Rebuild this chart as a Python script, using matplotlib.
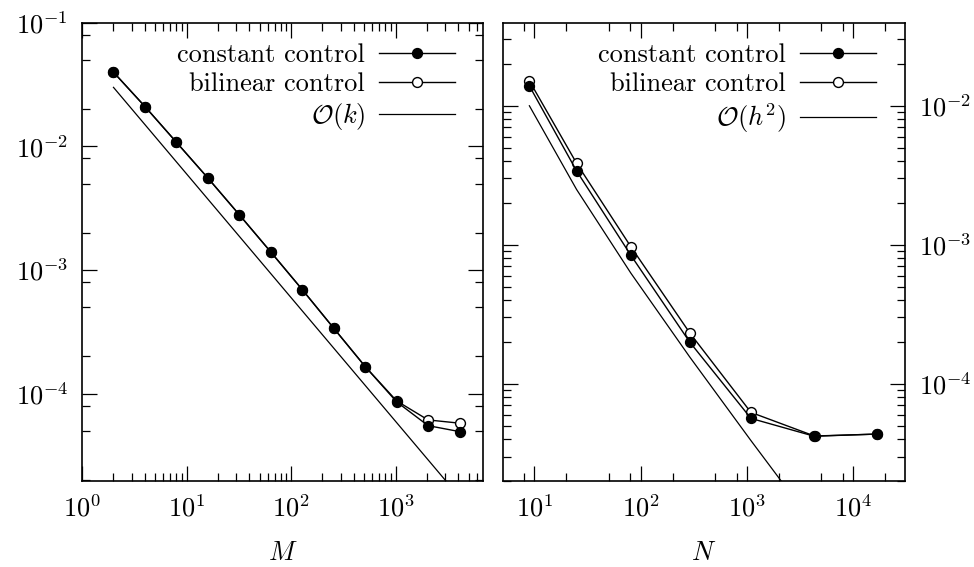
import numpy as np
import matplotlib
matplotlib.use("Agg")
import matplotlib.pyplot as plt
from matplotlib.ticker import FixedLocator, NullFormatter

# --------------------------------------------------
# Data
# --------------------------------------------------

M = [2, 4, 8, 16, 32, 64, 128, 256, 512, 1024, 2048, 4096]
err_const_M = [3.98e-2, 2.1e-2, 1.08e-2, 5.55e-3, 2.8e-3, 1.4e-3,
               6.95e-4, 3.39e-4, 1.66e-4, 8.6e-5, 5.52e-5, 4.94e-5]
err_bilin_M = [3.98e-2, 2.1e-2, 1.08e-2, 5.55e-3, 2.8e-3, 1.4e-3,
               6.95e-4, 3.39e-4, 1.66e-4, 8.75e-5, 6.14e-5, 5.78e-5]
M_ref = [2, 4096]
err_ref_M = [3.0e-2, 1.46e-5]

N_const = [9, 25, 81, 289, 1089, 4225, 16641]
err_const_N = [1.39e-2, 3.4e-3, 8.4e-4, 2.0e-4, 5.64e-5, 4.21e-5, 4.35e-5]
N_bilin = [9, 25, 81, 289, 1089, 4350, 16641]
err_bilin_N = [1.51e-2, 3.86e-3, 9.68e-4, 2.33e-4, 6.23e-5, 4.2e-5, 4.35e-5]
N_ref = [9, 25, 81, 289, 1089, 4225]
err_ref_N = [1.0e-2, 2.5e-3, 6.25e-4, 1.5625e-4, 3.906e-5, 9.77e-6]

labels_left = ["constant control", "bilinear control", r"$\mathcal{O}(k)$"]
labels_right = ["constant control", "bilinear control", r"$\mathcal{O}(h^2)$"]

# --------------------------------------------------
# Style
# --------------------------------------------------

plt.rcParams["font.family"] = "cmr10"
plt.rcParams["mathtext.fontset"] = "cm"
plt.rcParams["axes.formatter.use_mathtext"] = True
plt.rcParams["font.size"] = 19
plt.rcParams["axes.linewidth"] = 1.2
plt.rcParams["axes.unicode_minus"] = True

FS = 19
MS = 7.1


def exp_label(e):
    return r"$10^{%d}$" % e


def decade_minors(lo, hi, subs):
    return [s * 10.0 ** e for e in range(lo, hi) for s in subs]


def style_axis(ax):
    ax.tick_params(which="both", direction="in", top=True, right=True,
                   width=0.9, labelsize=FS)
    ax.tick_params(which="major", length=11)
    ax.tick_params(which="minor", length=5.7)
    ax.tick_params(axis="x", which="major", pad=10)
    ax.tick_params(axis="y", which="major", pad=10)


fig = plt.figure(figsize=(9.74, 5.67), dpi=100)
ax1 = fig.add_axes([0.0842, 0.1517, 0.4117, 0.8083])
ax2 = fig.add_axes([0.5161, 0.1517, 0.4131, 0.8083])

# --------------------------------------------------
# Left: error over M
# --------------------------------------------------

ax1.plot(M, err_bilin_M, "-o", color="black", lw=1.0, ms=MS,
         mfc="white", mec="black", mew=1.0, label=labels_left[1], zorder=3)
ax1.plot(M, err_const_M, "-o", color="black", lw=1.0, ms=MS,
         mfc="black", mec="black", label=labels_left[0], zorder=4)
ax1.plot(M_ref, err_ref_M, "-", color="black", lw=0.9,
         label=labels_left[2], zorder=2)

ax1.set_xscale("log")
ax1.set_yscale("log")
ax1.set_xlim(1, 6870)
ax1.set_ylim(1.97e-5, 0.1)

ax1.xaxis.set_major_locator(FixedLocator([1, 10, 100, 1000]))
ax1.set_xticklabels([exp_label(e) for e in range(0, 4)])
ax1.xaxis.set_minor_locator(FixedLocator(decade_minors(0, 4, range(2, 10))))
ax1.yaxis.set_major_locator(FixedLocator([1e-4, 1e-3, 1e-2, 1e-1]))
ax1.set_yticklabels([exp_label(e) for e in range(-4, 0)])
ax1.yaxis.set_minor_locator(FixedLocator(decade_minors(-5, -1, [2, 5, 8])))
ax1.xaxis.set_minor_formatter(NullFormatter())
ax1.yaxis.set_minor_formatter(NullFormatter())
style_axis(ax1)
ax1.set_xlabel(r"$M$", fontsize=FS, labelpad=14)

# --------------------------------------------------
# Right: error over N
# --------------------------------------------------

ax2.plot(N_bilin, err_bilin_N, "-o", color="black", lw=1.0, ms=MS,
         mfc="white", mec="black", mew=1.0, label=labels_right[1], zorder=3)
ax2.plot(N_const, err_const_N, "-o", color="black", lw=1.0, ms=MS,
         mfc="black", mec="black", label=labels_right[0], zorder=4)
ax2.plot(N_ref, err_ref_N, "-", color="black", lw=0.9,
         label=labels_right[2], zorder=2)

ax2.set_xscale("log")
ax2.set_yscale("log")
ax2.set_xlim(5.05, 30600)
ax2.set_ylim(2.0e-5, 0.0396)

ax2.xaxis.set_major_locator(FixedLocator([10, 100, 1000, 10000]))
ax2.set_xticklabels([exp_label(e) for e in range(1, 5)])
ax2.xaxis.set_minor_locator(FixedLocator(decade_minors(0, 5, [2, 5, 8])))
ax2.yaxis.set_major_locator(FixedLocator([1e-4, 1e-3, 1e-2]))
ax2.set_yticklabels([exp_label(e) for e in range(-4, -1)])
ax2.yaxis.set_minor_locator(FixedLocator(decade_minors(-5, -1, range(2, 10))))
ax2.xaxis.set_minor_formatter(NullFormatter())
ax2.yaxis.set_minor_formatter(NullFormatter())
style_axis(ax2)
ax2.tick_params(axis="y", which="both", labelleft=False, labelright=True)
ax2.set_xlabel(r"$N$", fontsize=FS, labelpad=14)

# --------------------------------------------------
# Legends (text first, sample on the right)
# --------------------------------------------------

for ax, labs, anchor in ((ax1, labels_left, (0.930, 0.955)),
                         (ax2, labels_right, (0.927, 0.955))):
    h, l = ax.get_legend_handles_labels()
    order = [l.index(s) for s in labs]
    ax.legend([h[i] for i in order], [l[i] for i in order],
              loc="upper right", bbox_to_anchor=anchor, frameon=False,
              markerfirst=False, fontsize=FS, handlelength=2.87,
              handletextpad=0.53, labelspacing=0.2, borderaxespad=0,
              borderpad=0)

fig.savefig("out.png", dpi=100)
